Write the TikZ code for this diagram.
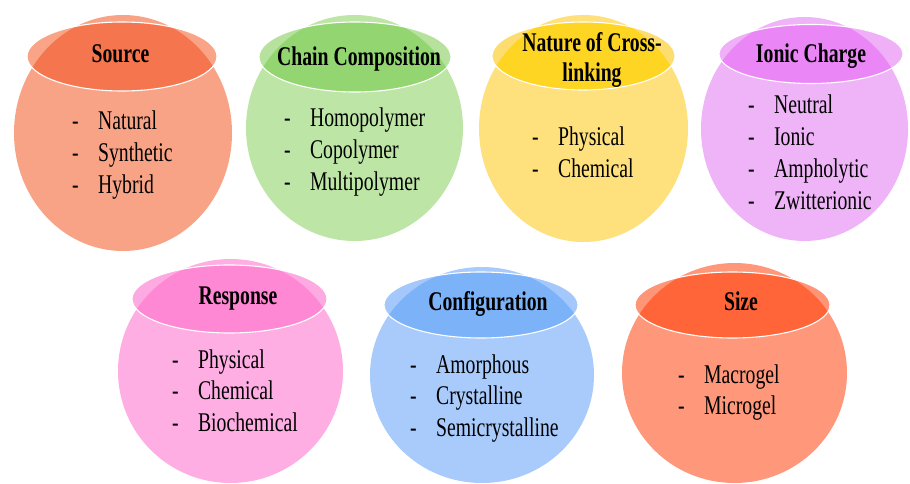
\documentclass[tikz,border=0pt]{standalone}
\usepackage{fontspec}
\setmainfont{Liberation Serif}
\usepackage{graphicx}

% circle fills (C), header fills inside the circle (H), header fills outside (E)
\definecolor{srcC}{HTML}{F9A386}\definecolor{srcH}{HTML}{F5764E}\definecolor{srcE}{HTML}{F9A387}
\definecolor{chnC}{HTML}{BDE5A5}\definecolor{chnH}{HTML}{93D571}\definecolor{chnE}{HTML}{B6E29D}
\definecolor{crsC}{HTML}{FEE07D}\definecolor{crsH}{HTML}{FED523}\definecolor{crsE}{HTML}{FEDD70}
\definecolor{ionC}{HTML}{EFB3F8}\definecolor{ionH}{HTML}{EB86F6}\definecolor{ionE}{HTML}{EFB0F8}
\definecolor{resC}{HTML}{FEAEE3}\definecolor{resH}{HTML}{FF88D5}\definecolor{resE}{HTML}{FEAAE2}
\definecolor{cfgC}{HTML}{A8CBFC}\definecolor{cfgH}{HTML}{7BB2F8}\definecolor{cfgE}{HTML}{A4C8FB}
\definecolor{sizC}{HTML}{FF987B}\definecolor{sizH}{HTML}{FF6538}\definecolor{sizE}{HTML}{FF9577}

% one category bubble: #1 colour prefix, #2 circle centre, #3 circle radii,
% #4 header centre, #5 header radii
\newcommand\gelbubble[5]{%
  \fill[#1C] #2 ellipse (#3);
  \fill[#1E] #4 ellipse (#5);
  \begin{scope}
    \clip #2 ellipse (#3);
    \fill[#1H] #4 ellipse (#5);
  \end{scope}
  \draw[white, line width=1.1pt] #4 ellipse (#5);
}
\newcommand\gdash{\makebox[35.5pt][l]{-}}
\newcommand\gelitems[1]{\scalebox{0.73}[1]{\begin{tabular}[t]{@{}l@{}}#1\end{tabular}}}
\newcommand\geltitle[1]{\scalebox{0.73}[1]{\begin{tabular}[t]{@{}c@{}}#1\end{tabular}}}

\begin{document}
\begin{tikzpicture}[x=1pt, y=-1pt,
  title/.style={anchor=base, inner sep=0pt, font=\fontsize{27}{30}\selectfont\bfseries},
  items/.style={anchor=base west, inner sep=0pt, font=\fontsize{27}{31.8}\selectfont}]
\useasboundingbox[fill=white] (0,0) rectangle (910,484);

% top row
\gelbubble{src}{(123,133)}{109 and 118}{(122,56.5)}{95 and 34.5}
\gelbubble{chn}{(354.5,128)}{108.5 and 113}{(355,57)}{96 and 35}
\gelbubble{crs}{(583.5,128.5)}{104.5 and 113.5}{(583.5,56)}{91.5 and 34}
\gelbubble{ion}{(804.5,129)}{103.5 and 112}{(811,54)}{92 and 29.5}
% bottom row
\gelbubble{res}{(230.5,371)}{112.5 and 112}{(229.5,299)}{97.5 and 34}
\gelbubble{cfg}{(482,375)}{112 and 108}{(481,305)}{97 and 33}
\gelbubble{siz}{(734.5,373)}{112.5 and 110}{(732.5,305)}{97.5 and 33}

% headings
\node[title] (src-title) at (120.5,63) {\geltitle{Source}};
\node[title] (chn-title) at (359,66) {\geltitle{Chain Composition}};
\node[title] (crs-title) at (592,52) {\geltitle{Nature of Cross-\\linking}};
\node[title] (ion-title) at (811,63) {\geltitle{Ionic Charge}};
\node[title] (res-title) at (238,304) {\geltitle{Response}};
\node[title] (cfg-title) at (488,310) {\geltitle{Configuration}};
\node[title] (siz-title) at (741,310) {\geltitle{Size}};

% item lists
\node[items] (src-list) at (72,130) {\gelitems{\gdash Natural\\ \gdash Synthetic\\ \gdash Hybrid}};
\node[items] (chn-list) at (284,127) {\gelitems{\gdash Homopolymer\\ \gdash Copolymer\\ \gdash Multipolymer}};
\node[items] (crs-list) at (532,146) {\gelitems{\gdash Physical\\ \gdash Chemical}};
\node[items] (ion-list) at (748,114) {\gelitems{\gdash Neutral\\ \gdash Ionic\\ \gdash Ampholytic\\ \gdash Zwitterionic}};
\node[items] (res-list) at (172,368) {\gelitems{\gdash Physical\\ \gdash Chemical\\ \gdash Biochemical}};
\node[items] (cfg-list) at (410,373) {\gelitems{\gdash Amorphous\\ \gdash Crystalline\\ \gdash Semicrystalline}};
\node[items] (siz-list) at (678,383) {\gelitems{\gdash Macrogel\\ \gdash Microgel}};
\end{tikzpicture}
\end{document}
